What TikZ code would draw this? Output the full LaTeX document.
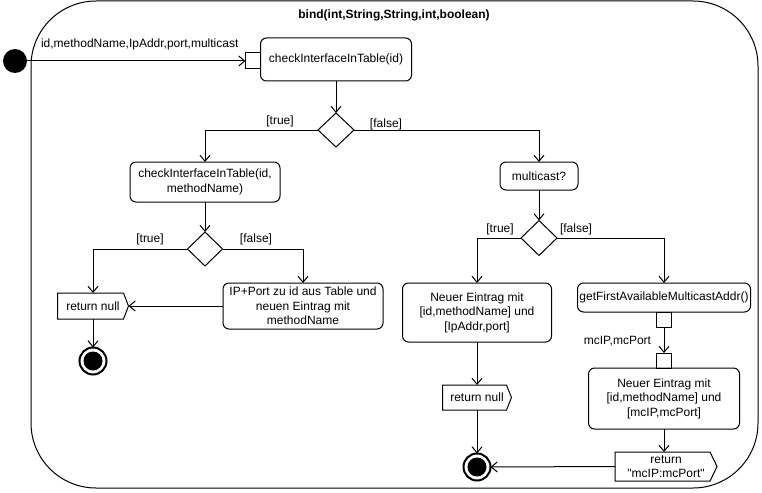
\documentclass[tikz,border=0pt]{standalone}
\usepackage{fontspec}
\setmainfont{Liberation Sans}[Ligatures=TeXOff]
\usetikzlibrary{arrows.meta,shapes.geometric}
\newcommand{\sendshape}[2]{%
  \draw[line width=1pt] (#1.north west) -- ([xshift=-#2pt]#1.north east) -- (#1.east)
    -- ([xshift=-#2pt]#1.south east) -- (#1.south west) -- cycle;}
\begin{document}
\begin{tikzpicture}[x=1pt,y=-1pt,
  every node/.style={font=\fontsize{12}{14.5}\selectfont, inner sep=0pt, outer sep=0pt},
  act/.style={draw, line width=1pt, rounded corners=6pt, align=center},
  dec/.style={draw, diamond, line width=1pt, minimum width=36pt, minimum height=34pt},
  pinbox/.style={draw, line width=1pt, minimum width=15pt, minimum height=15pt},
  sig/.style={align=center},
  finalst/.style={circle, draw, line width=2pt, minimum size=27pt,
    path picture={\fill[black] (path picture bounding box.center) circle (9.5pt);}},
  conn/.style={line width=1pt, -{Straight Barb[length=6pt,width=10pt]}},
  lbl/.style={}
]
\useasboundingbox (0,0) rectangle (762,492);
% frame
\draw[line width=1pt, rounded corners=65pt] (31,1) rectangle (758,488);
\node[font=\fontsize{12}{14.5}\selectfont\bfseries] (title) at (394,15) {bind(int,String,String,int,boolean)};

% initial
\node[circle, fill=black, minimum size=24pt] (init) at (15,61) {};
\node[pinbox, minimum height=16pt] (p0) at (253,61) {};
\node[act, minimum width=151pt, minimum height=43pt] (a1) at (336,59.5) {checkInterfaceInTable(id)};
\node[lbl, anchor=west] (lin) at (41,44) {id,methodName,IpAddr,port,multicast};

\node[dec] (d1) at (336,130) {};
\node[lbl] (t1) at (280,121) {[true]};
\node[lbl] (f1l) at (386,124) {[false]};

% left branch
\node[act, minimum width=150pt, minimum height=40pt] (a2) at (205,182) {checkInterfaceInTable(id,\\methodName)};
\node[dec, minimum width=35pt] (d3) at (205,249) {};
\node[lbl] (t3) at (150,239) {[true]};
\node[lbl] (f3l) at (256,239) {[false]};

\node[sig, minimum width=71pt, minimum height=26pt] (r1) at (93,306) {return null};
\sendshape{r1}{5}
\node[finalst] (fin1) at (93,361) {};
\node[act, minimum width=160pt, minimum height=46pt] (a4) at (303,306) {IP+Port zu id aus Table und\\neuen Eintrag mit\\methodName};

% right branch
\node[act, minimum width=78pt, minimum height=28pt] (a3) at (539,176) {multicast?};
\node[dec, minimum height=35pt] (d2) at (539,238) {};
\node[lbl] (t2) at (500,229) {[true]};
\node[lbl] (f2l) at (576,229) {[false]};

\node[act, minimum width=149pt, minimum height=59pt] (a5) at (477,312.5) {Neuer Eintrag mit\\{[id,methodName]} und\\{[IpAddr,port]}};
\node[sig, minimum width=69pt, minimum height=25pt] (r2) at (477,397.5) {return null};
\sendshape{r2}{5}
\node[finalst] (fin2) at (477,467) {};

\node[act, minimum width=173pt, minimum height=29pt] (a6) at (664,297.5) {getFirstAvailableMulticastAddr()};
\node[pinbox] (p1) at (664,319.5) {};
\node[pinbox] (p2) at (664,360.5) {};
\node[lbl, anchor=east] (lmc) at (651,341) {mcIP,mcPort};
\node[act, minimum width=151pt, minimum height=61pt] (a7) at (664,398.5) {Neuer Eintrag mit\\{[id,methodName]} und\\{[mcIP,mcPort]}};
\node[sig, minimum width=102pt, minimum height=29pt] (r3) at (666,466.5) {return\\"mcIP:mcPort"};
\sendshape{r3}{7}

% connectors
\draw[conn] (init) -- (p0.west);
\draw[conn] (a1.south) -- (d1.north);
\draw[conn] (d1.west) -| (a2.north);
\draw[conn] (d1.east) -| (a3.north);
\draw[conn] (a2.south) -- (d3.north);
\draw[conn] (d3.west) -| (r1.north);
\draw[conn] (d3.east) -| (a4.north);
\draw[conn] (a4.west) -- (r1.east);
\draw[conn] (r1.south) -- (fin1.north);
\draw[conn] (a3.south) -- (d2.north);
\draw[conn] (d2.west) -| (a5.north);
\draw[conn] (d2.east) -| (a6.north);
\draw[conn] (a5.south) -- (r2.north);
\draw[conn] (r2.south) -- (fin2.north);
\draw[conn] (p1.south) -- (p2.north);
\draw[conn] (a7.south) -- (a7.south |- r3.north);
\draw[conn] (r3.west) -- (fin2.east);
\end{tikzpicture}
\end{document}
